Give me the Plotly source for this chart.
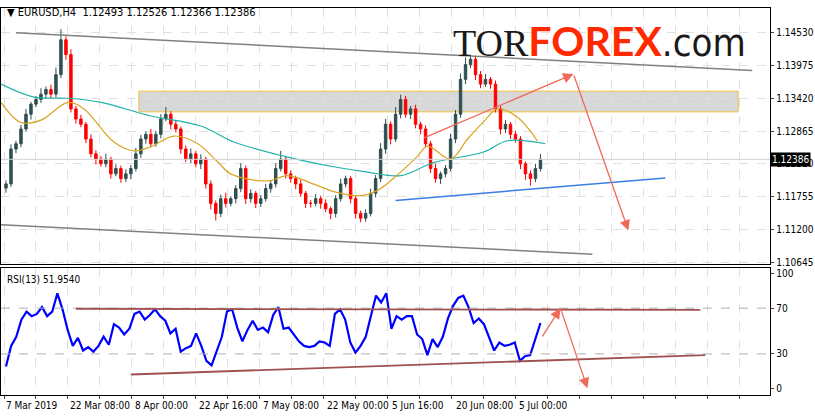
import plotly.graph_objects as go

close = [1.1197,1.1256,1.1265,1.1290,1.1315,1.1332,1.1340,1.1349,1.1357,1.1349,1.1382,1.1441,
         1.1416,1.1324,1.1307,1.1298,1.1273,1.1248,1.1239,1.1231,1.1239,1.1214,1.1223,1.1206,
         1.1214,1.1223,1.1248,1.1273,1.1281,1.1265,1.1281,1.1307,1.1315,1.1298,1.1290,1.1256,
         1.1239,1.1248,1.1231,1.1239,1.1197,1.1164,1.1147,1.1172,1.1164,1.1172,1.1189,1.1223,
         1.1172,1.1181,1.1164,1.1172,1.1189,1.1197,1.1223,1.1239,1.1214,1.1206,1.1197,1.1181,
         1.1164,1.1164,1.1172,1.1164,1.1155,1.1147,1.1172,1.1197,1.1206,1.1172,1.1147,1.1139,
         1.1147,1.1181,1.1206,1.1256,1.1298,1.1273,1.1315,1.1340,1.1315,1.1324,1.1298,1.1290,
         1.1265,1.1223,1.1206,1.1214,1.1223,1.1273,1.1315,1.1374,1.1399,1.1408,1.1382,1.1366,
         1.1374,1.1366,1.1324,1.1290,1.1298,1.1281,1.1273,1.1231,1.1214,1.1206,1.1223,1.12386]
first_open = 1.1190
wick_hi_pips = [6,8,5,7,9,4,6,10,5,8,12,18, 6,9,5,7,4,8,6,5,9,4,7,5,
                8,6,10,7,5,9,6,8,12,5,7,4, 6,9,5,8,4,6,5,7,10,4,6,9,
                5,7,4,6,8,5,9,14,4,6,5,7, 4,6,8,5,7,4,6,9,5,4,6,5,
                7,8,6,10,9,5,12,8,6,5,7,4, 6,5,8,4,6,9,7,10,12,8,5,6,
                9,4,6,5,7,4,6,5,4,6,8,9]
wick_lo_pips = [8,5,7,6,4,9,5,6,8,7,5,6, 9,6,8,5,7,6,9,5,6,8,4,7,
                6,9,5,7,8,6,5,7,4,9,6,8, 5,7,6,9,8,10,12,6,7,5,8,6,
                9,7,8,6,5,7,6,5,8,7,9,6, 8,7,5,9,6,10,7,5,6,8,9,7,
                6,5,7,6,8,9,5,7,6,8,7,9, 6,8,7,9,6,5,7,6,8,6,9,7,
                5,8,6,9,7,8,6,9,10,12,6,5]

teal_idx = [-1,5.6,12.4,19,29,39,45.6,55.6,65.6,72.4,79,85.6,95.6,100.4,108]
teal_val = [1.1366,1.1344,1.1342,1.1335,1.1312,1.1295,1.1268,1.1244,1.1226,1.1217,1.1211,1.1233,1.1251,1.1270,1.1265]
orange_idx = [-1,3,7,12.4,15.6,21.6,25.6,29,33.6,38.4,42.4,45,52.4,56.4,62.4,65.6,71,74.4,79,82.4,84.4,89,92.4,95.6,98.4,102.4,106.4]
orange_val = [1.1335,1.1301,1.1305,1.1335,1.1324,1.1268,1.1253,1.1260,1.1278,1.1265,1.1234,1.1214,1.1202,1.1211,1.1194,1.1184,1.1177,1.1186,1.1217,1.1244,1.1261,1.1239,1.1273,1.1302,1.1324,1.1310,1.1270]

rsi = [19,37,45,60,67,63,65,71,63,67,83,69,51,37,44,33,36,32,37,45,38,56,53,47,52,65,67,60,64,69,63,59,
       48,52,32,35,37,48,37,24,20,32,45,67,69,53,41,51,59,51,53,49,64,71,52,53,47,41,37,36,37,41,40,37,
       65,69,60,40,31,37,45,63,81,75,83,52,63,60,63,63,47,43,29,43,36,45,61,72,79,81,71,57,61,56,45,33,
       40,37,38,40,24,28,29,43,57]

price_ticks = [1.14530,1.13975,1.13420,1.12865,1.12310,1.11755,1.11200,1.10645]
date_labels = ["7 Mar 2019","22 Mar 08:00","8 Apr 00:00","22 Apr 16:00","7 May 08:00",
               "22 May 00:00","5 Jun 16:00","20 Jun 08:00","5 Jul 00:00"]
date_idx = [-0.4,12.4,25.4,38.2,51,63.8,76.8,89.6,102.4]
rsi_ticks = [100,70,30,0]

# drawn analysis objects (index, value)
chan_top = ([2,149.4],[1.1453,1.1389])
chan_bot = ([-1,117.4],[1.1128,1.1078])
zone = ([26.6,146.6],[1.1354,1.1319])
support = ([78,132],[1.1169,1.1207])
arrow1 = ([83.4,113.6],[1.1274,1.1383])
arrow2 = ([113.6,124.6],[1.1383,1.1118])
rsi_top = ([14,139],[69.5,68.5])
rsi_bot = ([25,140],[12,29])
rsi_arr1 = ([107.2,111],[44,70])
rsi_arr2 = ([111,116.4],[70,0])

last_price = close[-1]
opens = [first_open] + close[:-1]
highs = [max(o, c) + h/10000 for o, c, h in zip(opens, close, wick_hi_pips)]
lows = [min(o, c) - l/10000 for o, c, l in zip(opens, close, wick_lo_pips)]
idx = list(range(len(close)))
rsi_x = [i*(len(close)-1)/(len(rsi)-1) for i in range(len(rsi))]

FONT = "DejaVu Sans Condensed, DejaVu Sans"
fig = go.Figure()
fig.add_trace(go.Candlestick(x=idx, open=opens, high=highs, low=lows, close=close,
    increasing=dict(line=dict(color="#2f4f4f", width=1), fillcolor="#2f4f4f"),
    decreasing=dict(line=dict(color="#ff0000", width=1), fillcolor="#ff0000"),
    whiskerwidth=0, xaxis="x", yaxis="y", showlegend=False))
fig.add_trace(go.Scatter(x=teal_idx, y=teal_val, mode="lines", line=dict(color="#20b2aa", width=1.2, shape="spline"), showlegend=False))
fig.add_trace(go.Scatter(x=orange_idx, y=orange_val, mode="lines", line=dict(color="#daa520", width=1.2, shape="spline"), showlegend=False))
fig.add_trace(go.Scatter(x=rsi_x, y=rsi, mode="lines", line=dict(color="#0000ff", width=2.2), xaxis="x2", yaxis="y2", showlegend=False))

shapes = []
def seg(p, color, width, xr="x", yr="y"):
    shapes.append(dict(type="line", xref=xr, yref=yr, x0=p[0][0], x1=p[0][1], y0=p[1][0], y1=p[1][1],
                       line=dict(color=color, width=width)))
shapes.append(dict(type="rect", xref="x", yref="y", x0=zone[0][0], x1=zone[0][1], y0=zone[1][0], y1=zone[1][1],
                   fillcolor="rgba(190,190,190,0.6)", line=dict(color="#f0c040", width=1), layer="below"))
seg(chan_top, "#808080", 1.5); seg(chan_bot, "#808080", 1.5); seg(support, "#3a7fe6", 1.5)
shapes.append(dict(type="line", xref="paper", yref="y", x0=0, x1=0.945, y0=last_price, y1=last_price, line=dict(color="#d0d0d0", width=1)))
for v in [70, 30]:
    shapes.append(dict(type="line", xref="paper", yref="y2", x0=0, x1=0.945, y0=v, y1=v, line=dict(color="#b0b0b0", width=1, dash="dash")))
seg(rsi_top, "#a05050", 1.8, "x2", "y2"); seg(rsi_bot, "#a05050", 1.8, "x2", "y2")

anns = []
def arrow(p, xr="x", yr="y"):
    anns.append(dict(x=p[0][1], y=p[1][1], ax=p[0][0], ay=p[1][0], xref=xr, yref=yr, axref=xr, ayref=yr,
                     showarrow=True, arrowhead=2, arrowsize=1.6, arrowwidth=1.3, arrowcolor="#f06a5a", text=""))
arrow(arrow1); arrow(arrow2); arrow(rsi_arr1, "x2", "y2"); arrow(rsi_arr2, "x2", "y2")
for lab, xi in zip(date_labels, date_idx):
    anns.append(dict(x=xi, y=0.044, xref="x2", yref="paper", text=lab, showarrow=False, xanchor="left", yanchor="top",
                     font=dict(size=10, color="black", family=FONT)))
anns.append(dict(x=0.005, y=0.99, xref="paper", yref="paper", text="▼ EURUSD,H4  1.12493 1.12526 1.12366 1.12386",
                 showarrow=False, xanchor="left", yanchor="top", font=dict(size=11, color="black", family=FONT)))
anns.append(dict(x=0.005, y=0.345, xref="paper", yref="paper", text="RSI(13) 51.9540",
                 showarrow=False, xanchor="left", yanchor="top", font=dict(size=10, color="black", family=FONT)))
anns.append(dict(x=0.945, y=last_price, xref="paper", yref="y", text=f"{last_price:.5f}", showarrow=False, xanchor="left",
                 bgcolor="black", font=dict(size=10, color="white", family=FONT), borderpad=1))
anns.append(dict(x=0.553, y=0.903, xref="paper", yref="paper", showarrow=False, xanchor="left", yanchor="middle",
                 text="<span style='font-family:Liberation Serif;color:#1a1a1a'>TOR</span><span style='font-family:Lato;font-weight:900;color:#ff2a00;font-size:41px'><b>FOREX</b></span><span style='font-family:DejaVu Sans Condensed;color:#1a1a1a'>.com</span>",
                 font=dict(size=38)))
fig.update_layout(shapes=shapes, annotations=anns)

fig.update_layout(width=815, height=419, margin=dict(l=0, r=0, t=0, b=0), paper_bgcolor="white", plot_bgcolor="white",
    xaxis=dict(domain=[0.0, 0.945], range=[-1, 153], showticklabels=False, rangeslider=dict(visible=False),
               showgrid=True, gridcolor="#e0e0e0", griddash="dash", dtick=6.4, tick0=-0.4,
               showline=True, mirror=True, linecolor="black", zeroline=False, anchor="y"),
    yaxis=dict(domain=[0.365, 0.981], range=[1.10611, 1.14950], side="right", tickvals=price_ticks,
               ticktext=[f"{t:.5f}" for t in price_ticks], showgrid=True, gridcolor="#e0e0e0", griddash="dash",
               showline=True, mirror=True, linecolor="black", ticks="outside", ticklen=3, zeroline=False,
               tickfont=dict(size=10, family=FONT, color="black"), anchor="x"),
    xaxis2=dict(domain=[0.0, 0.945], range=[-1, 153], showticklabels=False, showgrid=True, gridcolor="#e0e0e0",
                griddash="dash", dtick=6.4, tick0=-0.4, showline=True, mirror=True, linecolor="black", zeroline=False,
                anchor="y2", ticks="outside", ticklen=3),
    yaxis2=dict(domain=[0.05, 0.356], range=[-6.1, 105.2], side="right", tickvals=rsi_ticks, showgrid=False,
                showline=True, mirror=True, linecolor="black", ticks="outside", ticklen=3, zeroline=False,
                tickfont=dict(size=10, family=FONT, color="black"), anchor="x2"))
fig.write_html("out.html", config={"displayModeBar": False})
with open("out.html", encoding="utf-8") as f:
    html = f.read()
html = html.replace("<head>", "<head><style>html,body{margin:0;padding:0;overflow:hidden;}</style>", 1)
with open("out.html", "w", encoding="utf-8") as f:
    f.write(html)
